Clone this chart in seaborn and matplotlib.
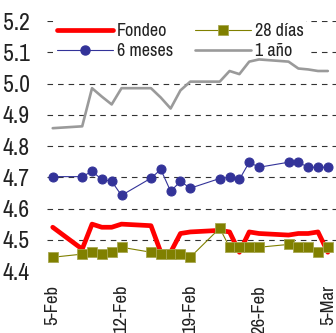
import matplotlib
matplotlib.use("Agg")
import matplotlib.pyplot as plt
from matplotlib import font_manager as fm
from matplotlib.lines import Line2D
import seaborn as sns
import pandas as pd

# Tasas de interés diarias (%), febrero-marzo 2010
fechas = ["2010-02-05", "2010-02-08", "2010-02-09", "2010-02-10", "2010-02-11",
          "2010-02-12", "2010-02-15", "2010-02-16", "2010-02-17", "2010-02-18",
          "2010-02-19", "2010-02-22", "2010-02-23", "2010-02-24", "2010-02-25",
          "2010-02-26", "2010-03-01", "2010-03-02", "2010-03-03", "2010-03-04",
          "2010-03-05"]
fondeo = [4.54, 4.47, 4.55, 4.54, 4.54, 4.55, 4.545, 4.46, 4.46, 4.52, 4.525,
          4.53, 4.525, 4.46, 4.525, 4.52, 4.515, 4.52, 4.52, 4.525, 4.46]
dias28 = [4.444, 4.454, 4.46, 4.454, 4.46, 4.476, 4.46, 4.454, 4.454, 4.454, 4.444,
          4.537, 4.476, 4.476, 4.476, 4.476, 4.485, 4.476, 4.476, 4.46, 4.476]
meses6 = [4.702, 4.702, 4.719, 4.693, 4.687, 4.642, 4.697, 4.725, 4.655, 4.687, 4.665,
          4.696, 4.70, 4.693, 4.748, 4.732, 4.748, 4.748, 4.732, 4.732, 4.732]
anio1 = [4.857, 4.863, 4.985, 4.958, 4.933, 4.985, 4.985, 4.955, 4.92, 4.978, 5.006,
         5.006, 5.04, 5.03, 5.07, 5.077, 5.07, 5.048, 5.045, 5.04, 5.04]

etiquetas_x = ["5-Feb", "12-Feb", "19-Feb", "26-Feb", "5-Mar"]
fechas_x = ["2010-02-05", "2010-02-12", "2010-02-19", "2010-02-26", "2010-03-05"]
ticks_y = [4.4, 4.5, 4.6, 4.7, 4.8, 4.9, 5.0, 5.1, 5.2]

df = pd.DataFrame({"fecha": pd.to_datetime(fechas), "Fondeo": fondeo,
                   "28 días": dias28, "6 meses": meses6, "1 año": anio1})

sns.set_style("white")

# prefer a narrow face when one is installed
estrechas = sorted({f.name for f in fm.fontManager.ttflist
                    if "Narrow" in f.name or "Condensed" in f.name
                    or f.stretch in ("condensed", "semi-condensed", "extra-condensed")})
familia = (estrechas[:1] if estrechas else []) + ["Roboto", "DejaVu Sans"]
plt.rcParams["font.family"] = familia
estirar = "condensed"
c_texto = "#222222"

fig = plt.figure(figsize=(3.36, 3.33), dpi=100)
ax = fig.add_axes([47 / 336, 1 - 271 / 333, 1 - 47 / 336, 250 / 333])

c_rojo = "#ff0000"
c_oliva = "#808000"
c_azul = "#333399"
c_gris = "#9a9a9a"

sns.lineplot(data=df, x="fecha", y="1 año", ax=ax, color=c_gris, linewidth=1.9, zorder=2)
sns.lineplot(data=df, x="fecha", y="6 meses", ax=ax, color=c_azul, linewidth=0.8,
             marker="o", markersize=6.5, markeredgecolor=c_azul, zorder=3)
sns.lineplot(data=df, x="fecha", y="Fondeo", ax=ax, color=c_rojo, linewidth=3.4,
             zorder=4, solid_joinstyle="round")
sns.lineplot(data=df, x="fecha", y="28 días", ax=ax, color=c_oliva, linewidth=0.8,
             marker="s", markersize=6.5, markeredgecolor="#a8a850",
             markeredgewidth=0.6, zorder=5)

ax.set_ylim(4.4, 5.2)
ax.set_yticks(ticks_y)
ax.set_yticklabels([f"{v:.1f}" for v in ticks_y], fontsize=17, fontstretch=estirar,
                   color=c_texto)
ax.set_xlim(pd.Timestamp("2010-02-05") - pd.Timedelta(hours=14),
            pd.Timestamp("2010-03-05") + pd.Timedelta(hours=20))
ax.set_xticks(pd.to_datetime(fechas_x))
ax.set_xticklabels(etiquetas_x, rotation=90, fontsize=13.5, va="top", ha="center",
                   fontstretch=estirar, color=c_texto)
ax.set_xlabel("")
ax.set_ylabel("")
ax.tick_params(axis="y", length=0, pad=12.5)
ax.tick_params(axis="x", length=0, pad=10)

ax.yaxis.grid(True, color="#333333", linestyle=(0, (5, 4.5)), linewidth=0.8, zorder=0.5)
ax.xaxis.grid(False)
ax.get_ygridlines()[0].set_visible(False)
ax.set_axisbelow(True)
for s in ax.spines.values():
    s.set_visible(False)

manejadores = [
    Line2D([], [], color=c_rojo, linewidth=3.4),
    Line2D([], [], color=c_azul, linewidth=0.8, marker="o", markersize=6.5),
    Line2D([], [], color=c_oliva, linewidth=0.8, marker="s", markersize=6.5,
           markeredgecolor="#a8a850", markeredgewidth=0.6),
    Line2D([], [], color=c_gris, linewidth=1.9),
]
nombres = ["Fondeo", "6 meses", "28 días", "1 año"]
leg = ax.legend(manejadores, nombres, ncol=2, loc="upper left",
                bbox_to_anchor=(0.022, 1.006), frameon=True,
                prop={"size": 13, "stretch": estirar},
                facecolor="white", edgecolor="none", framealpha=1,
                handlelength=3.1, handletextpad=0.2, columnspacing=1.25,
                labelspacing=0.22, borderpad=0.2, borderaxespad=0.0)
for t in leg.get_texts():
    t.set_color(c_texto)
# the white legend box hides the grid but stays under the series
leg.set_zorder(1.5)

fig.savefig("out.png", dpi=100)
